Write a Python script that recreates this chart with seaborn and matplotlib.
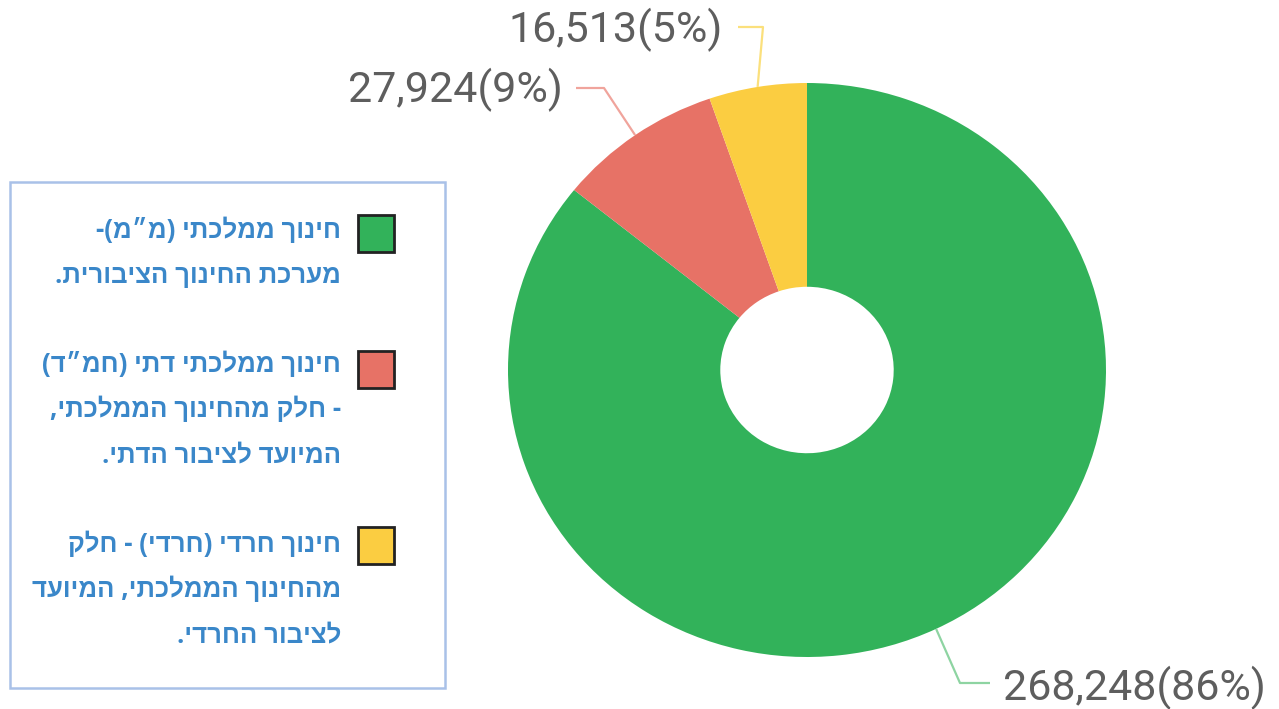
import matplotlib
matplotlib.use("Agg")
import matplotlib.pyplot as plt
import seaborn as sns
import numpy as np
from matplotlib.patches import Rectangle

# -------------------------------
# Data
# -------------------------------
sectors = ["ממלכתי", "ממלכתי דתי", "חרדי"]
students = [268248, 27924, 16513]
percents = [86, 9, 5]
legend_lines = [
    ["חינוך ממלכתי (מ״מ)-", "מערכת החינוך הציבורית."],
    ["חינוך ממלכתי דתי (חמ״ד)", "- חלק מהחינוך הממלכתי,", "המיועד לציבור הדתי."],
    ["חינוך חרדי (חרדי) - חלק", "מהחינוך הממלכתי, המיועד", "לציבור החרדי."],
]

colors = sns.color_palette(["#32b25a", "#e77266", "#fbcd41"])
line_colors = ["#8ed4a2", "#f0a49c", "#fbe07c"]

W, H = 1279, 709
CX, CY = 807, 370        # pie centre in pixels
RX, RY = 299, 287        # the source pie is slightly stretched


def visual(s):
    # matplotlib has no bidi: reverse Hebrew for display, mirror brackets
    swap = {"(": ")", ")": "("}
    return "".join(swap.get(c, c) for c in reversed(s))


def px(x, y):
    return (x - CX) / RX, (CY - y) / RY


sns.set_theme(style="white")
heb_font = ["Open Sans", "Liberation Sans", "DejaVu Sans"]
num_font = ["Roboto", "DejaVu Sans"]

fig = plt.figure(figsize=(W / 100, H / 100), dpi=100)
ax = fig.add_axes([0, 0, 1, 1])

wedges, _ = ax.pie(
    students,
    colors=colors,
    startangle=90,
    counterclock=False,
    radius=1,
    wedgeprops=dict(width=0.71, edgecolor="none"),
)
ax.set_aspect("auto")
ax.set_xlim(-CX / RX, (W - CX) / RX)
ax.set_ylim(-(H - CY) / RY, CY / RY)
ax.axis("off")

# -------------------------------
# Value labels with leader lines
# -------------------------------
# text pos, elbow, line end (pixels), alignment
label_layout = [
    ((1003, 688), (960, 683), (990, 683), "left"),
    ((563, 90), (604, 88), (576, 88), "right"),
    ((723, 30), (763, 27), (738, 27), "right"),
]

for w, val, pct, lc, (tpos, elbow, end, ha) in zip(
    wedges, students, percents, line_colors, label_layout
):
    mid = np.deg2rad((w.theta1 + w.theta2) / 2)
    anchor = (np.cos(mid), np.sin(mid))
    ex, ey = px(*elbow)
    nx, ny = px(*end)
    ax.plot([anchor[0], ex, nx], [anchor[1], ey, ny], color=lc, lw=1.6,
            solid_capstyle="butt")
    tx, ty = px(*tpos)
    ax.text(tx, ty, f"{val:,}({pct}%)", ha=ha, va="center",
            fontsize=31, color="#5e5e5e", family=num_font)

# -------------------------------
# Legend (right-to-left, drawn by hand)
# -------------------------------
fig.patches.append(Rectangle((10 / W, 1 - 688 / H), 435 / W, 506 / H,
                             transform=fig.transFigure, fill=False,
                             edgecolor="#a9c1e8", lw=1.8))

patch_tops = [215, 351, 527]
baselines = [238, 372, 552]
for lines, col, top, base in zip(legend_lines, colors, patch_tops, baselines):
    fig.patches.append(Rectangle((358 / W, 1 - (top + 37) / H), 36 / W, 37 / H,
                                 transform=fig.transFigure, facecolor=col,
                                 edgecolor="#222222", lw=2))
    for i, line in enumerate(lines):
        fig.text(341 / W, 1 - (base + 45 * i) / H, visual(line),
                 ha="right", va="baseline", fontsize=18.5, fontweight="bold",
                 color="#3a87c9", family=heb_font)

fig.savefig("out.png", dpi=100)
plt.close(fig)
